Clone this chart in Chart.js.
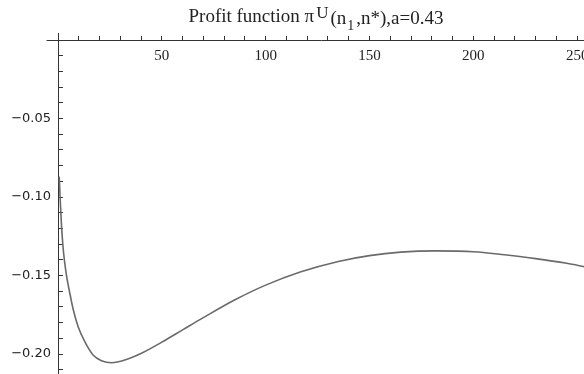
<!DOCTYPE html>
<html>
<head>
<meta charset="utf-8">
<script src="https://cdn.jsdelivr.net/npm/chart.js@4"></script>
<style>
  html, body { margin: 0; padding: 0; background: #fff; }
  #wrap { width: 584px; height: 374px; }
</style>
</head>
<body>
<div id="wrap"><canvas id="myChart" width="584" height="374"></canvas></div>
<script>
// values
const nValues = [0.6, 1.0, 1.6, 2.4, 3.2, 4.1, 5.7, 7.3, 9.7, 12.9, 16.9, 20.9, 25.8, 32.2, 40.2, 50, 60, 70, 85, 100, 117, 135, 150, 165, 182, 200, 215, 230, 245, 254];
const profitValues = [-0.087, -0.100, -0.116, -0.1315, -0.1415, -0.150, -0.1613, -0.1715, -0.1826, -0.1921, -0.2006, -0.2042, -0.2055, -0.2038, -0.1995, -0.1924, -0.1846, -0.1768, -0.1656, -0.1561, -0.1476, -0.1410, -0.1373, -0.1351, -0.1343, -0.1348, -0.1368, -0.1392, -0.1422, -0.1445];
const xTickLabels = [50, 100, 150, 200, 250];
const yTickLabels = [-0.05, -0.10, -0.15, -0.20];
const titleParts = [
	{ text: 'Profit function \u03c0', size: 19, dy: 0, gap: 2 },
	{ text: 'U', size: 17, dy: -4, gap: 2 },
	{ text: '(n', size: 19, dy: 2, gap: 1 },
	{ text: '1', size: 14, dy: 8, gap: 2 },
	{ text: ',n*),a=0.43', size: 19, dy: 2, gap: 0 }
];

const axisColor = '#333';

// title with super/subscript pieces
const titlePlugin = {
	id: 'mathTitle',
	afterDraw(chart) {
		const ctx = chart.ctx;
		ctx.save();
		ctx.fillStyle = '#222';
		ctx.textBaseline = 'alphabetic';
		let total = 0;
		titleParts.forEach((p) => {
			ctx.font = p.size + 'px "Liberation Serif"';
			p.w = ctx.measureText(p.text).width + p.gap;
			total += p.w;
		});
		let x = 316 - total / 2;
		titleParts.forEach((p) => {
			ctx.font = p.size + 'px "Liberation Serif"';
			ctx.fillText(p.text, x, 22 + p.dy);
			x += p.w;
		});
		ctx.restore();
	}
};

// axes cross at the origin, lines run a bit past it
const axisExtend = {
	id: 'axisExtend',
	afterDraw(chart) {
		const { ctx, chartArea } = chart;
		const xs = chart.scales.x;
		const ys = chart.scales.y;
		const y0 = Math.round(ys.getPixelForValue(0)) + 0.5;
		ctx.save();
		ctx.strokeStyle = axisColor;
		ctx.lineWidth = 1;
		ctx.beginPath();
		ctx.moveTo(xs.getPixelForValue(-5.5), y0);
		ctx.lineTo(chartArea.left + 1, y0);
		ctx.moveTo(chartArea.left + 0.5, chartArea.top + 1);
		ctx.lineTo(chartArea.left + 0.5, ys.getPixelForValue(0.0045));
		ctx.stroke();
		ctx.restore();
	}
};

const ctx = document.getElementById('myChart').getContext('2d');
const myChart = new Chart(ctx, {
	type: 'line',
	data: {
		datasets: [
			{
				label: 'profit',
				data: nValues.map((n, i) => ({ x: n, y: profitValues[i] })),
				borderColor: '#6a6a6a',
				borderWidth: 1.6,
				pointRadius: 0,
				cubicInterpolationMode: 'monotone',
				fill: false
			}
		]
	},
	options: {
		responsive: false,
		animation: false,
		layout: { padding: { top: 40, left: 0, right: 0, bottom: 0 } },
		plugins: {
			legend: { display: false },
			tooltip: { enabled: false },
			title: { display: false }
		},
		scales: {
			x: {
				type: 'linear',
				position: { y: 0 },
				min: 0,
				max: 253.3,
				afterFit(scale) {
					scale.height = 0;
					scale.paddingLeft = 0;
					scale.paddingRight = 0;
				},
				border: { color: axisColor, width: 1 },
				grid: { drawOnChartArea: false, drawTicks: true, tickLength: -5, tickColor: axisColor },
				ticks: {
					stepSize: 10,
					includeBounds: false,
					maxRotation: 0,
					autoSkip: false,
					padding: 12,
					color: '#222',
					font: { family: '"Liberation Serif"', size: 15 },
					callback: (v) => (xTickLabels.includes(v) ? String(v) : '')
				}
			},
			y: {
				type: 'linear',
				position: 'left',
				min: -0.2127,
				max: 0,
				afterFit(scale) {
					scale.width = 58;
					scale.paddingTop = 0;
					scale.paddingBottom = 0;
				},
				border: { color: axisColor, width: 1 },
				grid: { drawOnChartArea: false, drawTicks: true, tickLength: -5, tickColor: axisColor },
				ticks: {
					stepSize: 0.01,
					includeBounds: false,
					autoSkip: false,
					padding: 12,
					color: '#222',
					font: { family: '"DejaVu Sans"', size: 13 },
					callback: (v) => {
						const k = Math.round(v * 100);
						const hit = yTickLabels.find((t) => Math.round(t * 100) === k);
						return hit !== undefined ? '\u2212' + Math.abs(hit).toFixed(2) : '';
					}
				}
			}
		}
	},
	plugins: [titlePlugin, axisExtend]
});
</script>
</body>
</html>
